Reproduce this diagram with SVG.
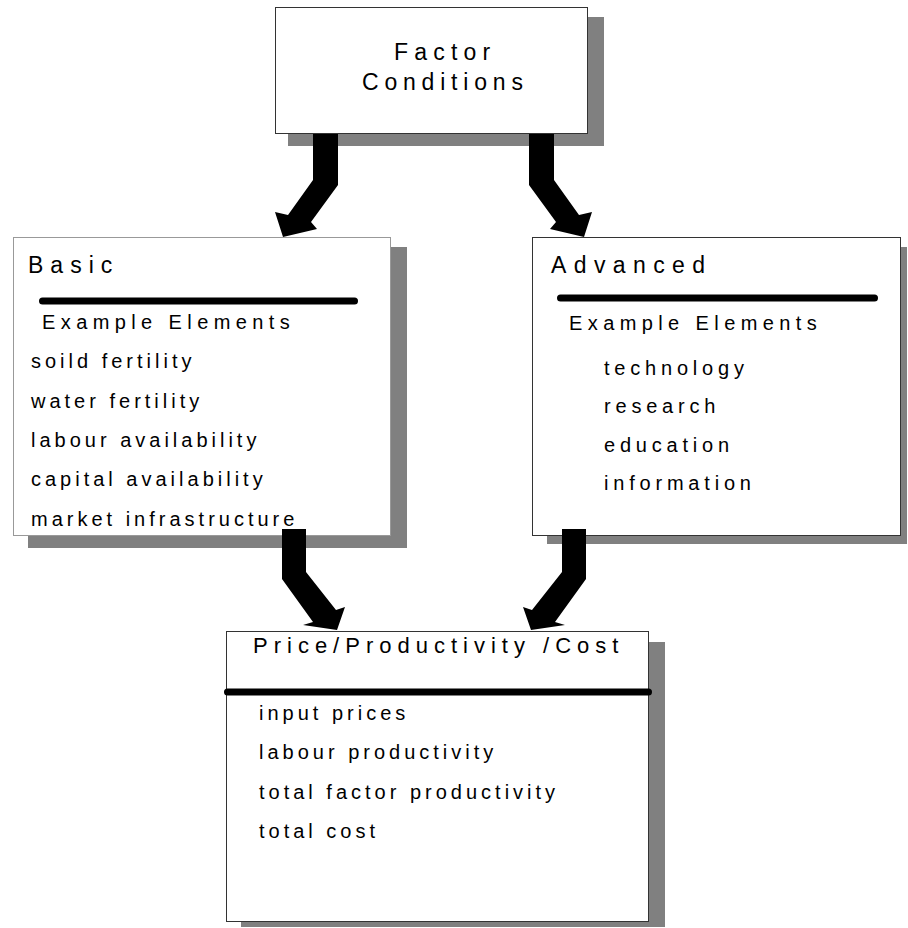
<svg xmlns="http://www.w3.org/2000/svg" width="908" height="928" viewBox="0 0 908 928">
<style>
.shadow{fill:#808080}
.box{fill:#fff;stroke:#333;stroke-width:1}
.box.light{stroke:#999}
.bar{stroke:#000;stroke-width:7;stroke-linecap:round}
text{font-family:"Liberation Sans",Arial,sans-serif;fill:#000}
.title{font-size:23px;letter-spacing:6.2px}
.sub{font-size:20px;letter-spacing:5.4px}
.item{font-size:20px;letter-spacing:4px}
.item2{font-size:20px;letter-spacing:4.8px}
.arrow{fill:#000}
</style>
<rect width="908" height="928" fill="#fff"/>
<g id="factor-conditions">
<rect class="shadow" x="288" y="17" width="316" height="129"/>
<rect class="box" x="275.5" y="7.5" width="312" height="126"/>
<text class="title" x="394" y="60">Factor</text>
<text class="title" x="362" y="90" style="letter-spacing:5.8px">Conditions</text>
</g>
<g id="basic">
<rect class="shadow" x="28" y="247" width="379" height="301"/>
<rect class="box light" x="13.5" y="237.5" width="377" height="298"/>
<text class="title" x="28" y="273" style="letter-spacing:7px">Basic</text>
<line class="bar" x1="42.5" y1="301" x2="354.5" y2="301"/>
<text class="sub" x="42" y="329">Example Elements</text>
<text class="item" x="31" y="368">soild fertility</text>
<text class="item" x="31" y="408">water fertility</text>
<text class="item" x="31" y="447">labour availability</text>
<text class="item" x="31" y="486">capital availability</text>
<text class="item" x="31" y="526">market infrastructure</text>
</g>
<g id="advanced">
<rect class="shadow" x="547" y="247" width="360" height="297"/>
<rect class="box" x="532.5" y="237.5" width="368" height="298"/>
<text class="title" x="551" y="273" style="letter-spacing:7.4px">Advanced</text>
<line class="bar" x1="560.5" y1="298" x2="874.5" y2="298"/>
<text class="sub" x="569" y="330">Example Elements</text>
<text class="item2" x="604" y="375">technology</text>
<text class="item2" x="604" y="413">research</text>
<text class="item2" x="604" y="452">education</text>
<text class="item2" x="604" y="490">information</text>
</g>
<g id="price-productivity-cost">
<rect class="shadow" x="241" y="642" width="424" height="285"/>
<rect class="box" x="226.5" y="631.5" width="422" height="290"/>
<text class="title" x="253" y="653" style="font-size:22px;letter-spacing:6px">Price/Productivity /Cost</text>
<line class="bar" x1="227.5" y1="692" x2="648.5" y2="692"/>
<text class="item" x="259" y="720">input prices</text>
<text class="item" x="259" y="759">labour productivity</text>
<text class="item" x="259" y="799">total factor productivity</text>
<text class="item" x="259" y="838">total cost</text>
</g>
<g id="connectors">
<polygon class="arrow" points="313,134 338,134 338,185 311,222 317,229 283,237 275,212 288,215 313,180"/>
<polygon class="arrow" points="554,134 529,134 529,185 556,222 550,229 584,237 592,212 579,215 554,180"/>
<polygon class="arrow" points="282,529 306,529 306,572 336,610 345,607 337,630 303,625 313,622 282,579"/>
<polygon class="arrow" points="586,529 562,529 562,572 532,610 523,607 531,630 565,625 555,622 586,579"/>
</g>
</svg>
